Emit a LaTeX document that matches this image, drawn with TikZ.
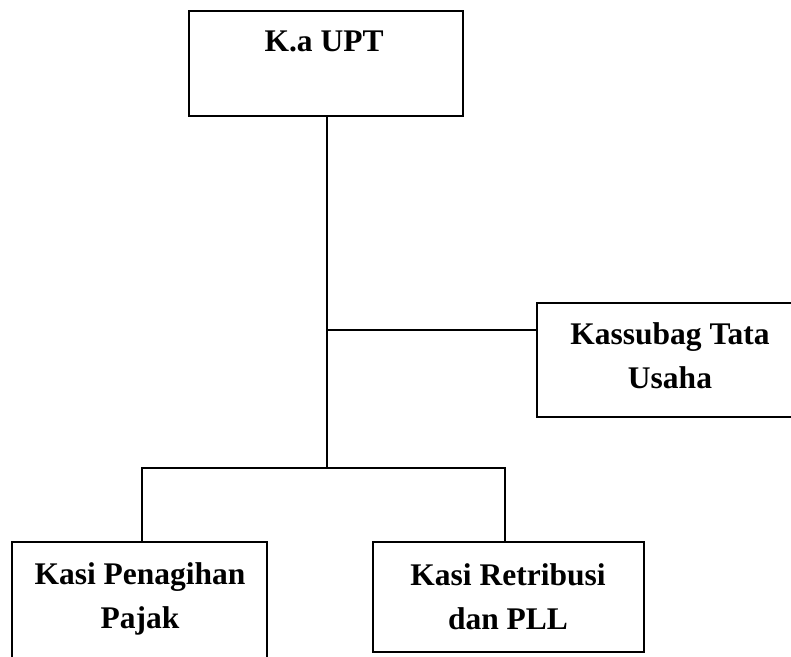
\documentclass[tikz,border=0pt]{standalone}
\usepackage{fontspec}
\setmainfont{Liberation Serif}
\begin{document}
\begin{tikzpicture}[x=1pt,y=-1pt,
  box/.style={draw,line width=1.5pt,rectangle,inner sep=0pt,outer sep=0pt},
  lbl/.style={anchor=north,align=center,inner sep=0pt,font=\fontsize{31.5}{44}\selectfont\bfseries},
  conn/.style={line width=1.5pt}]
\useasboundingbox (0,0) rectangle (791,656);
\clip (0,0) rectangle (791,656);
% boxes
\node[box,minimum width=274pt,minimum height=105pt] (ka) at (326,63.5) {};
\node[box,minimum width=266pt,minimum height=114pt] (ks) at (670,360) {};
\node[box,minimum width=255pt,minimum height=128pt] (kp) at (139.5,606) {};
\node[box,minimum width=271pt,minimum height=110pt] (kr) at (508.5,597) {};
% labels
\node[lbl] (tka) at (324,31) {K.a UPT};
\node[lbl] (tks) at (670,322) {Kassubag Tata\\Usaha};
\node[lbl] (tkp) at (140,562) {Kasi Penagihan\\Pajak};
\node[lbl] (tkr) at (508,563) {Kasi Retribusi\\dan PLL};
% junctions
\coordinate (jm) at (327,330);
\coordinate (jb) at (327,468);
\coordinate (jl) at (142,468);
\coordinate (jr) at (505,468);
% connectors
\draw[conn] (ka.south -| jb) -- (jb);
\draw[conn] (jm) -- (jm -| ks.west);
\draw[conn] (kp.north -| jl) -- (jl) -- (jr) -- (kr.north -| jr);
\end{tikzpicture}
\end{document}
